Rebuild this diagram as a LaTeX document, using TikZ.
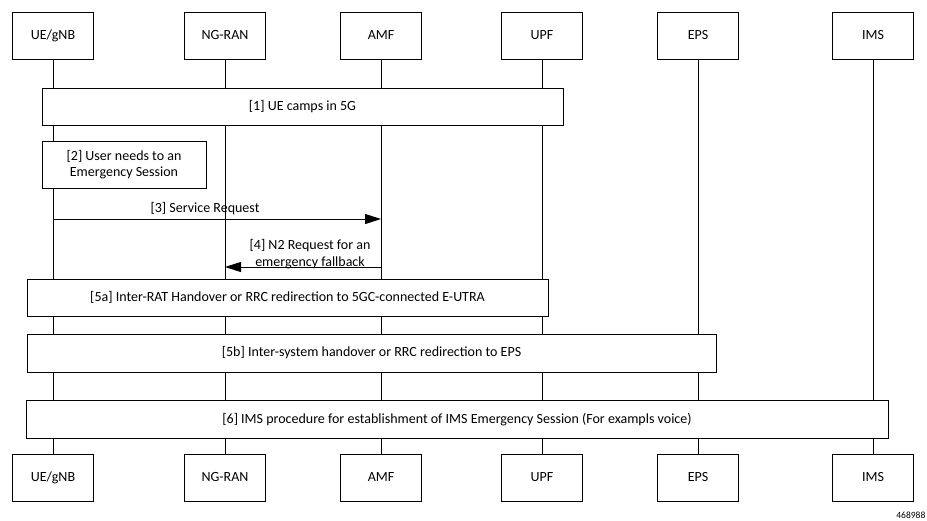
\documentclass[tikz,border=0pt]{standalone}
\usepackage{fontspec}
\setmainfont{Carlito}
\usetikzlibrary{arrows.meta}

\begin{document}
\begin{tikzpicture}[x=1pt,y=-1pt,%%
  entityStyle/.style={draw,line width=1pt,minimum width=81pt,minimum height=47pt,inner sep=0pt,text height=10pt,text depth=3pt,font=\fontsize{14}{16.5}\selectfont},%%
  lifeStyle/.style={-,line width=1pt},%%
  stepBox/.style={draw,fill=white,line width=1pt,inner sep=0pt,align=center,font=\fontsize{14}{16.5}\selectfont},%%
  msgStyle/.style={-{Triangle[length=16pt,width=10pt]},line width=1pt},%%
  msgLabel/.style={inner sep=1pt,align=center,font=\fontsize{14}{16.5}\selectfont}%%
]
%%
\useasboundingbox (0,0) rectangle (927,520);
%%
\pgfmathsetmacro{\ytop}{35.5}
\pgfmathsetmacro{\ybot}{477.5}
\pgfmathsetmacro{\xue}{53}
\pgfmathsetmacro{\xran}{225}
\pgfmathsetmacro{\xamf}{381}
\pgfmathsetmacro{\xupf}{542}
\pgfmathsetmacro{\xeps}{698}
\pgfmathsetmacro{\xims}{873}
%%
%% Entities at the top and at the bottom.
\node[entityStyle] (ueTop) at (\xue,\ytop) {UE/gNB};
\node[entityStyle] (ranTop) at (\xran,\ytop) {NG-RAN};
\node[entityStyle] (amfTop) at (\xamf,\ytop) {AMF};
\node[entityStyle] (upfTop) at (\xupf,\ytop) {UPF};
\node[entityStyle] (epsTop) at (\xeps,\ytop) {EPS};
\node[entityStyle] (imsTop) at (\xims,\ytop) {IMS};
\node[entityStyle] (ueBot) at (\xue,\ybot) {UE/gNB};
\node[entityStyle] (ranBot) at (\xran,\ybot) {NG-RAN};
\node[entityStyle] (amfBot) at (\xamf,\ybot) {AMF};
\node[entityStyle] (upfBot) at (\xupf,\ybot) {UPF};
\node[entityStyle] (epsBot) at (\xeps,\ybot) {EPS};
\node[entityStyle] (imsBot) at (\xims,\ybot) {IMS};
%% Lifelines.
\draw[lifeStyle] (ueTop) -- (ueBot);
\draw[lifeStyle] (ranTop) -- (ranBot);
\draw[lifeStyle] (amfTop) -- (amfBot);
\draw[lifeStyle] (upfTop) -- (upfBot);
\draw[lifeStyle] (epsTop) -- (epsBot);
\draw[lifeStyle] (imsTop) -- (imsBot);
%% Procedure boxes.
\node[stepBox,minimum width=521pt,minimum height=37pt] (stepOne) at (302.5,106.5) {[1] UE camps in 5G};
\node[stepBox,minimum width=164pt,minimum height=47pt] (stepTwo) at (124,164.5) {[2] User needs to an\\Emergency Session};
\node[stepBox,minimum width=521pt,minimum height=37pt] (stepFiveA) at (287.5,297.5) {[5a] Inter-RAT Handover or RRC redirection to 5GC-connected E-UTRA};
\node[stepBox,minimum width=689pt,minimum height=38pt] (stepFiveB) at (371.5,353) {[5b] Inter-system handover or RRC redirection to EPS};
\node[stepBox,minimum width=862pt,minimum height=38pt] (stepSix) at (457,419.5) {[6] IMS procedure for establishment of IMS Emergency Session (For exampls voice)};
%% Messages.
\coordinate (srStart) at (\xue,219);
\coordinate (srEnd) at (\xamf,219);
\draw[msgStyle] (srStart) -- (srEnd);
\node[msgLabel,anchor=south] (srLabel) at (205,216) {[3] Service Request};
\coordinate (ntStart) at (\xamf,267);
\coordinate (ntEnd) at (\xran,267);
\draw[msgStyle] (ntStart) -- (ntEnd);
\node[msgLabel,anchor=south] (ntLabel) at (310,270) {[4] N2 Request for an\\emergency fallback};
%% Figure number.
\node[anchor=east,inner sep=0pt,font=\fontsize{9.5}{11}\selectfont] (figNum) at (925.5,515) {468988};
\end{tikzpicture}
\end{document}
